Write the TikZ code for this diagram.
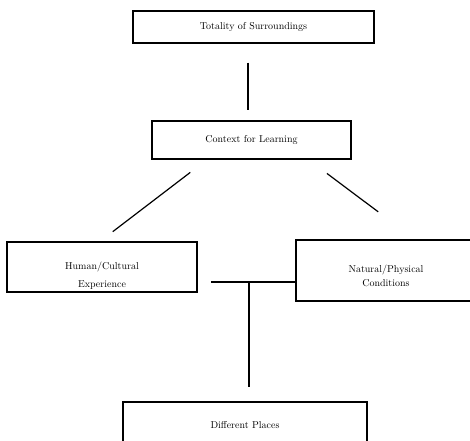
\documentclass[tikz,border=0pt]{standalone}
\usepackage{tikz}

\tikzset{
	lbox/.style={draw, line width=1.2pt, align=center, inner sep=2pt},
	conn/.style={line width=1.2pt}
}

\begin{document}
\begin{tikzpicture}[x=1pt,y=-1pt]
		\useasboundingbox (0,0) rectangle (470,440);
		\clip (0,0) rectangle (470,440);
		
		\node[lbox, minimum width=241pt, minimum height=32pt] (tot) at (253.5,27) {Totality of Surroundings};
		\node[lbox, minimum width=199pt, minimum height=38pt] (ctx) at (251.5,140) {Context for Learning};
		\node[lbox, minimum width=190pt, minimum height=50pt] (hum) at (102,267) {\rule{0pt}{25pt}Human/Cultural\\[6pt]Experience};
		\node[lbox, minimum width=180pt, minimum height=61pt] (nat) at (386,270.5) {\rule{0pt}{18pt}Natural/Physical\\[2pt]Conditions};
		\node[lbox, minimum width=244pt, minimum height=46pt] (plc) at (245,425) {Different Places};
		
		\draw[conn, shorten <=19pt, shorten >=10pt] ([xshift=-5.5pt]tot.south) -- ([xshift=-3.5pt]ctx.north);
		\draw[conn, shorten <=21pt, shorten >=16pt] ([xshift=-44.5pt]ctx.south) -- ([xshift=-2pt]hum.north);
		\draw[conn, shorten <=23pt, shorten >=46pt] ([xshift=57pt]ctx.south) -- ([xshift=29pt]nat.north);
		
		\coordinate (jl) at (211,282);
		\coordinate (j) at (249,282);
		\draw[conn] (jl) -- (nat.west |- jl);
		\draw[conn, shorten >=14pt] (j) -- (j |- plc.north);
	\end{tikzpicture}
\end{document}
